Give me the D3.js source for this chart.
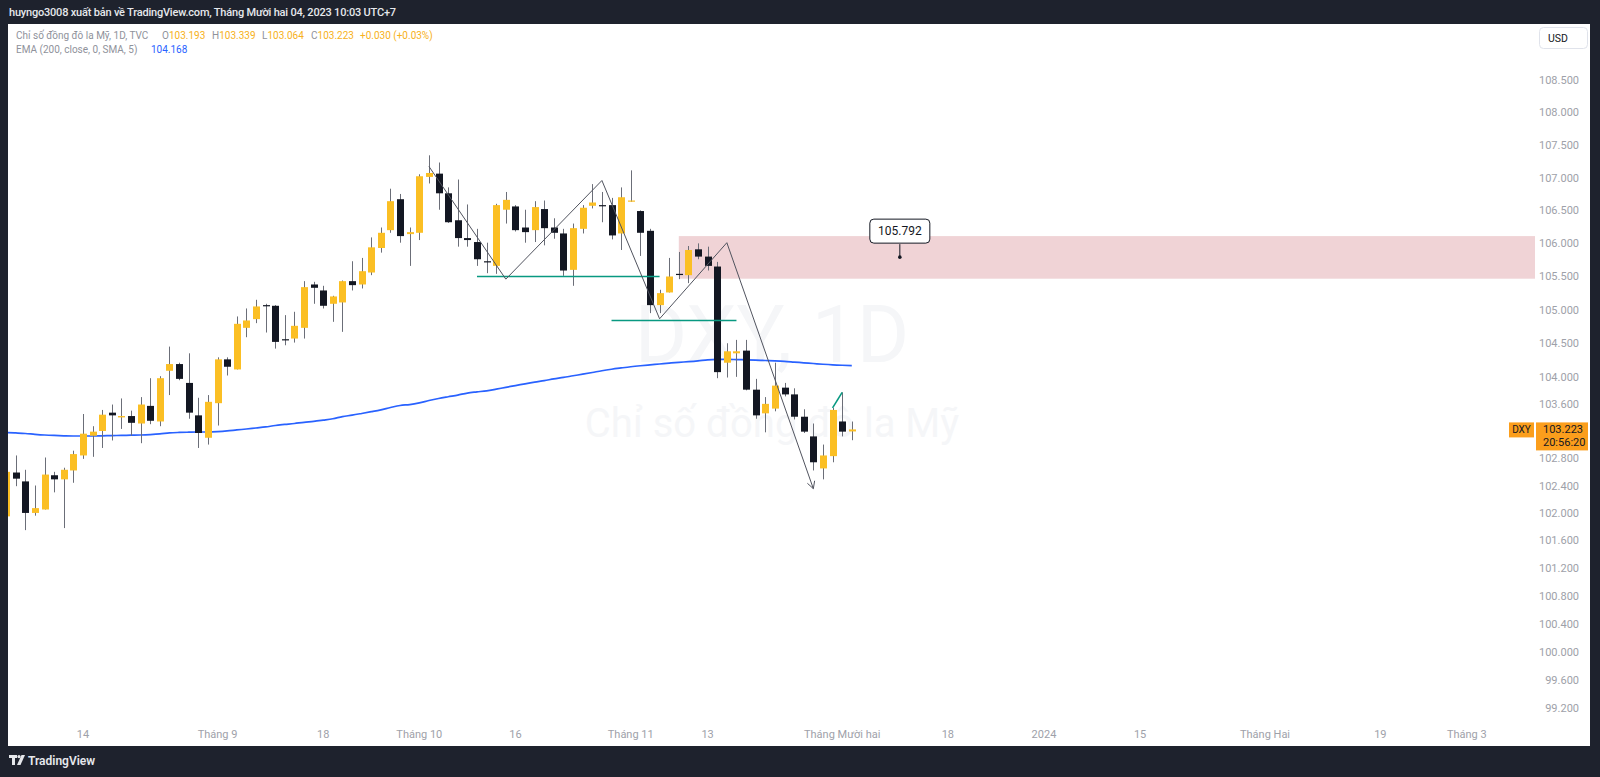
<html lang="vi">
<head>
<meta charset="utf-8">
<title>DXY 1D</title>
<script src="https://d3js.org/d3.v7.min.js"></script>
<style>
  body { margin: 0; background: #1e222d; }
  svg { display: block; }
  text { font-family: Roboto, "Noto Sans", sans-serif; }
</style>
</head>
<body>
<div id="chart"></div>
<script>

// trading days shown on the chart
var dates = [
  "2023-08-02","2023-08-03","2023-08-04","2023-08-07","2023-08-08","2023-08-09","2023-08-10","2023-08-11",
  "2023-08-14","2023-08-15","2023-08-16","2023-08-17","2023-08-18","2023-08-21","2023-08-22","2023-08-23",
  "2023-08-24","2023-08-25","2023-08-28","2023-08-29","2023-08-30","2023-08-31","2023-09-01","2023-09-04",
  "2023-09-05","2023-09-06","2023-09-07","2023-09-08","2023-09-11","2023-09-12","2023-09-13","2023-09-14",
  "2023-09-15","2023-09-18","2023-09-19","2023-09-20","2023-09-21","2023-09-22","2023-09-25","2023-09-26",
  "2023-09-27","2023-09-28","2023-09-29","2023-10-02","2023-10-03","2023-10-04","2023-10-05","2023-10-06",
  "2023-10-09","2023-10-10","2023-10-11","2023-10-12","2023-10-13","2023-10-16","2023-10-17","2023-10-18",
  "2023-10-19","2023-10-20","2023-10-23","2023-10-24","2023-10-25","2023-10-26","2023-10-27","2023-10-30",
  "2023-10-31","2023-11-01","2023-11-02","2023-11-03","2023-11-06","2023-11-07","2023-11-08","2023-11-09",
  "2023-11-10","2023-11-13","2023-11-14","2023-11-15","2023-11-16","2023-11-17","2023-11-20","2023-11-21",
  "2023-11-22","2023-11-23","2023-11-24","2023-11-27","2023-11-28","2023-11-29","2023-11-30","2023-12-01",
  "2023-12-04"
];

var opens = [
  101.95,102.59,102.46,102.00,102.05,102.55,102.49,102.62,
  102.84,103.13,103.20,103.47,103.40,103.42,103.31,103.57,
  103.34,104.09,104.19,103.91,103.43,103.10,103.61,104.26,
  104.11,104.73,104.86,105.07,105.06,104.56,104.57,104.73,
  105.38,105.29,105.09,105.11,105.43,105.38,105.56,105.93,
  106.20,106.67,106.14,106.16,107.01,107.06,106.76,106.35,
  106.08,106.02,105.73,105.66,106.51,106.56,106.24,106.20,
  106.52,106.24,106.15,105.60,106.22,106.57,106.58,106.58,
  106.15,106.64,106.49,106.19,105.07,105.26,105.54,105.52,
  105.91,105.80,105.65,104.21,104.35,104.39,103.81,103.46,
  103.53,103.84,103.74,103.41,103.12,102.65,102.83,103.34,
  103.193
];
var highs = [
  102.66,102.84,102.63,102.40,102.81,102.60,102.66,102.91,
  103.45,103.27,103.51,103.59,103.68,103.50,103.70,103.98,
  104.01,104.45,104.21,104.35,103.69,103.73,104.29,104.29,
  104.90,105.02,105.15,105.09,105.07,104.92,104.97,105.43,
  105.42,105.36,105.21,105.44,105.73,105.78,106.09,106.24,
  106.83,106.75,106.24,107.05,107.34,107.23,106.85,106.97,
  106.59,106.22,106.01,106.60,106.78,106.58,106.51,106.64,
  106.65,106.38,106.22,106.30,106.58,106.90,106.78,106.69,
  106.85,107.11,106.50,106.22,105.30,105.78,105.87,105.96,
  106.00,105.95,105.72,104.50,104.55,104.55,103.97,103.70,
  104.21,103.91,103.83,103.52,103.31,103.00,103.54,103.77,
  103.339
];
var lows = [
  101.90,102.39,101.75,101.96,102.05,102.30,101.78,102.44,
  102.79,102.82,102.95,103.06,103.23,103.13,103.02,103.30,
  103.27,103.73,103.95,103.38,102.95,103.00,103.28,104.02,
  104.11,104.59,104.80,104.66,104.42,104.47,104.51,104.57,
  105.09,105.02,104.82,104.67,105.29,105.32,105.52,105.86,
  106.16,106.01,105.66,106.05,106.91,106.51,106.31,105.95,
  105.95,105.66,105.55,105.54,106.30,106.18,106.01,106.02,
  105.97,106.07,105.51,105.36,106.15,106.53,106.32,106.06,
  105.90,106.63,105.81,104.95,104.95,105.26,105.46,105.40,
  105.76,105.59,103.98,103.99,104.00,103.80,103.38,103.18,
  103.49,103.71,103.37,103.17,102.62,102.49,102.74,103.12,
  103.064
];
var closes = [
  102.60,102.50,102.00,102.07,102.56,102.49,102.63,102.86,
  103.16,103.19,103.44,103.43,103.42,103.32,103.59,103.35,
  103.98,104.19,103.97,103.47,103.17,103.63,104.26,104.15,
  104.79,104.84,105.05,105.06,104.52,104.55,104.76,105.34,
  105.33,105.06,105.20,105.43,105.37,105.58,105.94,106.16,
  106.64,106.11,106.17,107.02,107.07,106.76,106.32,106.08,
  106.05,105.76,105.72,106.58,106.66,106.20,106.17,106.55,
  106.23,106.16,105.59,106.23,106.54,106.62,106.57,106.12,
  106.70,106.65,106.16,105.07,105.25,105.50,105.53,105.90,
  105.80,105.66,104.07,104.38,104.38,103.81,103.43,103.60,
  103.87,103.74,103.41,103.19,102.74,102.84,103.51,103.19,
  103.223
];

// EMA (200, close, 0, SMA, 5), one value per bar
var ema200 = [
  103.178,103.171,103.163,103.151,103.141,103.134,103.129,103.126,
  103.126,103.126,103.129,103.132,103.135,103.138,103.141,103.147,
  103.156,103.171,103.178,103.182,103.185,103.185,103.190,103.200,
  103.215,103.229,103.244,103.259,103.281,103.296,103.310,103.328,
  103.340,103.359,103.380,103.411,103.433,103.458,103.484,103.512,
  103.546,103.576,103.590,103.615,103.649,103.679,103.705,103.730,
  103.760,103.777,103.793,103.818,103.845,103.870,103.897,103.922,
  103.944,103.969,103.991,104.016,104.040,104.065,104.091,104.113,
  104.132,104.150,104.165,104.178,104.191,104.204,104.216,104.226,
  104.238,104.253,104.260,104.260,104.257,104.253,104.249,104.243,
  104.238,104.231,104.220,104.209,104.198,104.187,104.178,104.172,
  104.168
];

// price scale labels (the 103.200 slot is covered by the last price label)
var priceTicks = [108.5,108.0,107.5,107.0,106.5,106.0,105.5,105.0,104.5,104.0,
                  103.6,102.8,102.4,102.0,101.6,101.2,100.8,100.4,100.0,99.6,99.2];

// time scale labels
var timeTickDates = ["2023-08-14","2023-09-01","2023-09-18","2023-10-02","2023-10-16","2023-11-01","2023-11-13",
                     "2023-12-01","2023-12-18","2024-01-01","2024-01-15","2024-02-01","2024-02-19","2024-03-01"];
var timeTickLabels = ["14","Tháng 9","18","Tháng 10","16","Tháng 11","13",
                      "Tháng Mười hai","18","2024","15","Tháng Hai","19","Tháng 3"];

// drawings
var zigzagDates  = ["2023-10-03","2023-10-13","2023-10-27","2023-11-06","2023-11-15","2023-11-28"];
var zigzagPrices = [107.17, 105.46, 106.955, 104.865, 106.01, 102.354];
var levelDates  = [["2023-10-10","2023-11-06"], ["2023-10-30","2023-11-16"], ["2023-11-30","2023-12-01"]];
var levelPrices = [[105.50, 105.50], [104.84, 104.84], [103.54, 103.77]];
var zoneStart = "2023-11-08";
var zoneTop = 106.11, zoneBottom = 105.467;
var noteDate = "2023-12-11", notePrice = 105.792;

var W = 1600, H = 777;
var plot = {left: 8, right: 1535, top: 24, bottom: 722};

var parse = d3.timeParse("%Y-%m-%d");
var day0 = parse(dates[0]);
function barIndex(s) {
  return d3.timeDay.range(day0, parse(s))
    .filter(function(d) { var w = d.getDay(); return w !== 0 && w !== 6; }).length;
}

var x = d3.scaleLinear().domain([0, 159]).range([6.1, 6.1 + 159 * 9.61]);
var y = d3.scaleLog().domain([99.2, 108.5]).range([708, 80]);

var bars = dates.map(function(d, i) {
  return {i: i, o: opens[i], h: highs[i], l: lows[i], c: closes[i]};
});

var svg = d3.select("#chart").append("svg")
  .attr("width", W).attr("height", H);

svg.append("rect").attr("width", W).attr("height", H).attr("fill", "#1e222d");
svg.append("rect")
  .attr("x", 8).attr("y", 24).attr("width", 1582).attr("height", 722)
  .attr("fill", "#ffffff");

// header
svg.append("text").attr("x", 9).attr("y", 16)
  .attr("fill", "#e6e8ec").attr("font-size", 11).attr("font-weight", 500)
  .attr("letter-spacing", -0.2)
  .text("huyngo3008 xuất bản về TradingView.com, Tháng Mười hai 04, 2023 10:03 UTC+7");

svg.append("defs").append("clipPath").attr("id", "plotclip")
  .append("rect")
  .attr("x", plot.left).attr("y", plot.top)
  .attr("width", plot.right - plot.left).attr("height", plot.bottom - plot.top);

var g = svg.append("g").attr("clip-path", "url(#plotclip)");

// watermark
g.append("text").attr("x", 772).attr("y", 362).attr("text-anchor", "middle")
  .attr("font-size", 80).attr("fill", "#f5f6f8").text("DXY, 1D");
g.append("text").attr("x", 772).attr("y", 437).attr("text-anchor", "middle")
  .attr("font-size", 40).attr("fill", "#f5f6f8").text("Chỉ số đồng đô la Mỹ");

// supply zone
g.append("rect")
  .attr("x", x(barIndex(zoneStart)))
  .attr("y", y(zoneTop))
  .attr("width", plot.right - x(barIndex(zoneStart)))
  .attr("height", y(zoneBottom) - y(zoneTop))
  .attr("fill", "#f0d3d6");

// EMA line
g.append("path")
  .datum(ema200)
  .attr("fill", "none")
  .attr("stroke", "#2962ff")
  .attr("stroke-width", 1.7)
  .attr("d", d3.line()
    .x(function(d, i) { return x(i); })
    .y(function(d) { return y(d); })
    .curve(d3.curveMonotoneX));

// candles
var upColor = "#fbbf24", downColor = "#131722";
var bw = 7;

g.selectAll("line.wick")
  .data(bars)
  .enter().append("line")
  .attr("class", "wick")
  .attr("x1", function(d) { return Math.round(x(d.i)) + 0.5; })
  .attr("x2", function(d) { return Math.round(x(d.i)) + 0.5; })
  .attr("y1", function(d) { return y(d.h); })
  .attr("y2", function(d) { return y(d.l); })
  .attr("stroke", "#6b6e78")
  .attr("stroke-width", 1);

g.selectAll("rect.body")
  .data(bars)
  .enter().append("rect")
  .attr("class", "body")
  .attr("x", function(d) { return Math.round(x(d.i)) + 0.5 - bw / 2; })
  .attr("y", function(d) { return y(Math.max(d.o, d.c)); })
  .attr("width", bw)
  .attr("height", function(d) { return Math.max(1.2, Math.abs(y(d.o) - y(d.c))); })
  .attr("fill", function(d) { return d.c >= d.o ? upColor : downColor; });

// horizontal levels and small trendline
levelDates.forEach(function(pair, k) {
  g.append("line")
    .attr("x1", x(barIndex(pair[0]))).attr("x2", x(barIndex(pair[1])))
    .attr("y1", y(levelPrices[k][0])).attr("y2", y(levelPrices[k][1]))
    .attr("stroke", "#089981").attr("stroke-width", 1.6);
});

// zigzag with arrow
var zz = zigzagDates.map(function(d, k) { return [x(barIndex(d)), y(zigzagPrices[k])]; });
g.append("path")
  .attr("d", d3.line()(zz))
  .attr("fill", "none").attr("stroke", "#50535e").attr("stroke-width", 1);
var a = zz[zz.length - 2], b = zz[zz.length - 1];
var ang = Math.atan2(b[1] - a[1], b[0] - a[0]);
[-0.5, 0.5].forEach(function(s) {
  g.append("line")
    .attr("x1", b[0]).attr("y1", b[1])
    .attr("x2", b[0] - 8 * Math.cos(ang + s)).attr("y2", b[1] - 8 * Math.sin(ang + s))
    .attr("stroke", "#50535e").attr("stroke-width", 1);
});

// price note
var nx = x(barIndex(noteDate)), ny = y(notePrice);
g.append("line").attr("x1", nx).attr("x2", nx).attr("y1", ny - 13).attr("y2", ny)
  .attr("stroke", "#131722").attr("stroke-width", 1);
g.append("circle").attr("cx", nx).attr("cy", ny).attr("r", 1.8).attr("fill", "#131722");
g.append("rect").attr("x", nx - 30).attr("y", ny - 38).attr("width", 60).attr("height", 24)
  .attr("rx", 4).attr("fill", "#fff").attr("stroke", "#131722").attr("stroke-width", 1);
g.append("text").attr("x", nx).attr("y", ny - 22).attr("text-anchor", "middle")
  .attr("font-size", 12).attr("fill", "#131722").text(notePrice.toFixed(3));

// price scale
svg.selectAll("text.ptick")
  .data(priceTicks)
  .enter().append("text")
  .attr("class", "ptick")
  .attr("x", 1579).attr("y", function(d) { return y(d) + 4; })
  .attr("text-anchor", "end").attr("font-size", 11).attr("fill", "#9ea1a9")
  .text(function(d) { return d.toFixed(3); });

// time scale
svg.selectAll("text.ttick")
  .data(timeTickDates)
  .enter().append("text")
  .attr("class", "ttick")
  .attr("x", function(d) { return x(barIndex(d)); }).attr("y", 738)
  .attr("text-anchor", "middle").attr("font-size", 11).attr("fill", "#9ea1a9")
  .text(function(d, k) { return timeTickLabels[k]; });

// last price label
var last = bars[bars.length - 1];
var ly = y(last.c);
svg.append("rect").attr("x", 1509).attr("y", ly - 7).attr("width", 25).attr("height", 15)
  .attr("fill", "#fb9e1c");
svg.append("text").attr("x", 1521.5).attr("y", ly + 4).attr("text-anchor", "middle")
  .attr("font-size", 10).attr("fill", "#131722").text("DXY");
svg.append("rect").attr("x", 1536).attr("y", ly - 7).attr("width", 52).attr("height", 28)
  .attr("fill", "#fb9e1c");
svg.append("text").attr("x", 1543).attr("y", ly + 4)
  .attr("font-size", 11).attr("fill", "#131722").text(last.c.toFixed(3));
svg.append("text").attr("x", 1543).attr("y", ly + 17)
  .attr("font-size", 11).attr("fill", "#131722").text("20:56:20");

// currency button
svg.append("rect").attr("x", 1539.5).attr("y", 27.5).attr("width", 48).attr("height", 21)
  .attr("rx", 4).attr("fill", "#fff").attr("stroke", "#e0e3eb");
svg.append("text").attr("x", 1548).attr("y", 42)
  .attr("font-size", 10.5).attr("fill", "#131722").text("USD");

// legend
var leg1 = svg.append("text").attr("y", 39).attr("font-size", 10);
leg1.append("tspan").attr("x", 16).attr("fill", "#8f929b").text("Chỉ số đồng đô la Mỹ, 1D, TVC");
var ohlc = [["O", last.o], ["H", last.h], ["L", last.l], ["C", last.c]];
var ohlcX = [162, 212, 262, 311];
ohlc.forEach(function(p, k) {
  leg1.append("tspan").attr("x", ohlcX[k]).attr("fill", "#8f929b").text(p[0]);
  leg1.append("tspan").attr("fill", "#f7b120").text(p[1].toFixed(3));
});
leg1.append("tspan").attr("x", 360).attr("fill", "#f7b120")
  .text("+" + (last.c - last.o).toFixed(3) + " (+" + ((last.c - last.o) / last.o * 100).toFixed(2) + "%)");

var leg2 = svg.append("text").attr("y", 53).attr("font-size", 10);
leg2.append("tspan").attr("x", 16).attr("fill", "#8f929b").text("EMA (200, close, 0, SMA, 5)");
leg2.append("tspan").attr("x", 151).attr("fill", "#2962ff").text(ema200[ema200.length - 1].toFixed(3));

// footer logo
var logo = svg.append("g").attr("transform", "translate(9,755)").attr("fill", "#e6e8ec");
logo.append("rect").attr("x", 0).attr("y", 0).attr("width", 8).attr("height", 3);
logo.append("rect").attr("x", 3).attr("y", 0).attr("width", 3).attr("height", 10);
logo.append("circle").attr("cx", 10).attr("cy", 1.6).attr("r", 1.6);
logo.append("path").attr("d", "M12.5,0 L16,0 L11.5,10 L8,10 Z");
svg.append("text").attr("x", 28).attr("y", 765)
  .attr("font-size", 12).attr("font-weight", 600).attr("fill", "#e6e8ec").text("TradingView");

</script>
</body>
</html>
